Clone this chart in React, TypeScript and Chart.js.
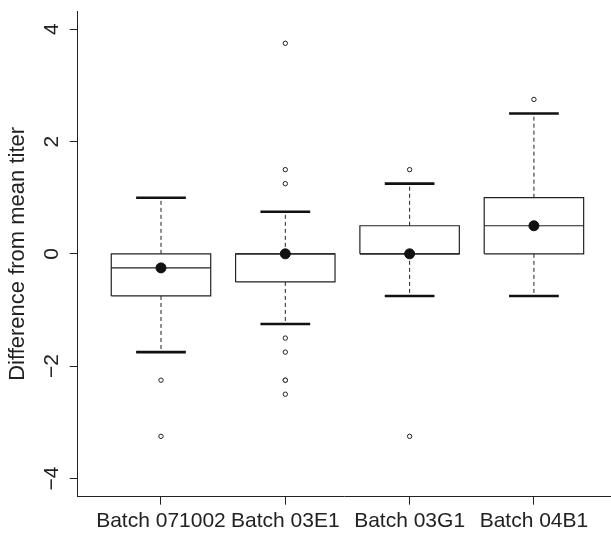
import React, { useEffect, useRef } from "react";
import { Chart, registerables } from "chart.js";

Chart.register(...registerables);

// ---- data ----
const categories = ["Batch 071002", "Batch 03E1", "Batch 03G1", "Batch 04B1"];
const lowerWhisker = [-1.75, -1.25, -0.75, -0.75];
const q1 = [-0.75, -0.5, 0, 0];
const medians = [-0.25, 0, 0, 0.5];
const q3 = [0, 0, 0.5, 1];
const upperWhisker = [1, 0.75, 1.25, 2.5];
const means = [-0.25, 0, 0, 0.5];
const outliers = [
  [-2.25, -3.25],
  [3.75, 1.5, 1.25, -1.5, -1.75, -2.25, -2.25, -2.5],
  [1.5, -3.25],
  [2.75],
];
const yTicks = [-4, -2, 0, 2, 4];
const yTickLabels = ["−4", "−2", "0", "2", "4"];
const yTitle = "Difference from mean titer";

// ---- style constants ----
const BOX_HALF = 0.4;
const CAP_HALF = 0.2;
const INK = "#222222";
const FONT = "'Liberation Sans', Arial, Helvetica, sans-serif";

type P = { x: number; y: number | null };
type Seg = [number, number, number, number];

function segments(list: Seg[]): P[] {
  const out: P[] = [];
  list.forEach(([x1, y1, x2, y2]) => {
    out.push({ x: x1, y: y1 }, { x: x2, y: y2 }, { x: x2, y: null });
  });
  return out;
}

export default function App() {
  const ref = useRef<HTMLCanvasElement | null>(null);

  useEffect(() => {
    if (!ref.current) return;
    const pos = categories.map((_, i) => i + 1);

    const boxData: P[] = [];
    pos.forEach((x, i) => {
      boxData.push(
        { x: x - BOX_HALF, y: q1[i] },
        { x: x + BOX_HALF, y: q1[i] },
        { x: x + BOX_HALF, y: q3[i] },
        { x: x - BOX_HALF, y: q3[i] },
        { x: x - BOX_HALF, y: q1[i] },
        { x: x - BOX_HALF, y: null }
      );
    });
    const whiskerData = segments(
      pos.flatMap((x, i): Seg[] => [
        [x, q3[i], x, upperWhisker[i]],
        [x, q1[i], x, lowerWhisker[i]],
      ])
    );
    const capData = segments(
      pos.flatMap((x, i): Seg[] => [
        [x - CAP_HALF, upperWhisker[i], x + CAP_HALF, upperWhisker[i]],
        [x - CAP_HALF, lowerWhisker[i], x + CAP_HALF, lowerWhisker[i]],
      ])
    );
    const medianData = segments(
      pos.map((x, i): Seg => [x - BOX_HALF, medians[i], x + BOX_HALF, medians[i]])
    );
    const outlierData: P[] = pos.flatMap((x, i) => outliers[i].map((y) => ({ x, y })));
    const meanData: P[] = pos.map((x, i) => ({ x, y: means[i] }));

    const lineBase = {
      pointRadius: 0,
      pointHoverRadius: 0,
      spanGaps: false,
      tension: 0,
      fill: false,
      borderCapStyle: "butt" as const,
    };

    const chart = new Chart(ref.current, {
      type: "line",
      data: {
        datasets: [
          {
            label: "means",
            data: meanData,
            showLine: false,
            pointRadius: 5,
            pointBorderWidth: 1,
            pointBackgroundColor: "#111111",
            pointBorderColor: "#111111",
          } as any,
          {
            label: "outliers",
            data: outlierData,
            showLine: false,
            pointRadius: 2.2,
            pointBorderWidth: 1,
            pointBackgroundColor: "#ffffff",
            pointBorderColor: INK,
          } as any,
          { label: "medians", data: medianData, borderWidth: 1.2, borderColor: INK, ...lineBase } as any,
          { label: "caps", data: capData, borderWidth: 2.6, borderColor: "#111111", ...lineBase } as any,
          { label: "whiskers", data: whiskerData, borderWidth: 1, borderDash: [4, 3], borderColor: INK, ...lineBase } as any,
          { label: "boxes", data: boxData, borderWidth: 1.2, borderColor: INK, ...lineBase } as any,
        ],
      },
      options: {
        animation: false,
        responsive: false,
        devicePixelRatio: 1,
        events: [],
        layout: { autoPadding: false, padding: { top: 11, left: 0, right: 0, bottom: 0 } },
        plugins: { legend: { display: false }, tooltip: { enabled: false } },
        scales: {
          x: {
            type: "linear",
            min: 0.33,
            max: 4.62,
            offset: false,
            grid: { drawOnChartArea: false, drawTicks: true, tickLength: 8, color: INK, offset: false },
            border: { display: true, color: INK, width: 1 },
            afterBuildTicks: (s: any) => {
              s.ticks = pos.map((v) => ({ value: v }));
            },
            afterFit: (s: any) => {
              s.height = 37.3;
              s.paddingLeft = 0;
              s.paddingRight = 0;
              s.paddingTop = 0;
              s.paddingBottom = 0;
            },
            ticks: {
              autoSkip: false,
              minRotation: 0,
              maxRotation: 0,
              padding: 4,
              color: INK,
              font: { family: FONT, size: 21 },
              callback: (_v: any, i: number) => categories[i],
            },
          },
          y: {
            type: "linear",
            min: -4.325,
            max: 4.325,
            grid: { drawOnChartArea: false, drawTicks: true, tickLength: 8, color: INK },
            border: { display: true, color: INK, width: 1 },
            afterBuildTicks: (s: any) => {
              s.ticks = yTicks.map((v) => ({ value: v }));
            },
            afterFit: (s: any) => {
              s.width = 77.7;
              s.paddingLeft = 0;
              s.paddingRight = 0;
              s.paddingTop = 0;
              s.paddingBottom = 0;
            },
            title: {
              display: true,
              text: yTitle,
              color: INK,
              font: { family: FONT, size: 22 },
              padding: { top: 5, bottom: 0 },
            },
            ticks: {
              minRotation: 90,
              maxRotation: 90,
              crossAlign: "center",
              padding: 6,
              color: INK,
              font: { family: FONT, size: 21 },
              callback: (_v: any, i: number) => yTickLabels[i],
            },
          },
        },
      } as any,
    });
    return () => chart.destroy();
  }, []);

  return (
    <div style={{ position: "fixed", left: 0, top: 0, width: 611, height: 534, background: "#ffffff" }}>
      <canvas ref={ref} width={611} height={534} style={{ width: 611, height: 534, display: "block" }} />
    </div>
  );
}
